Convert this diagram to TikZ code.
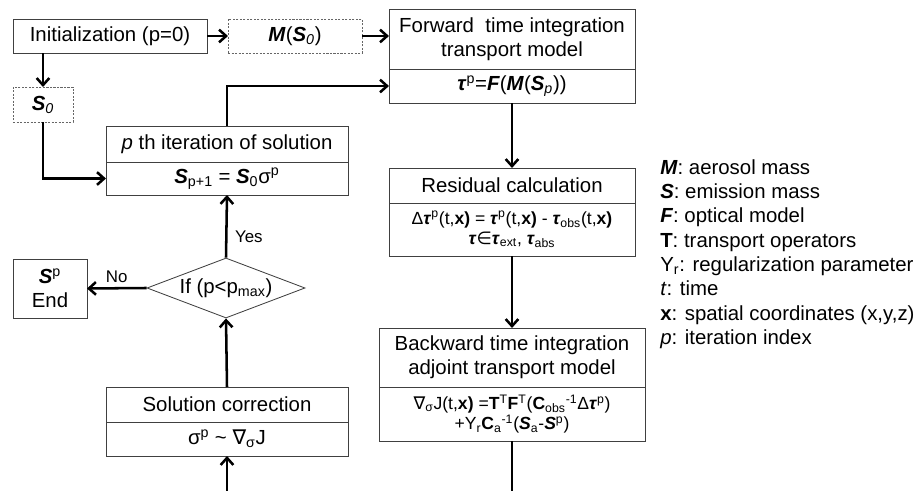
\documentclass[tikz,border=0pt]{standalone}
\usepackage{fontspec}
\setmainfont{Liberation Sans}
\newfontfamily\dvsans{DejaVu Sans}
\usetikzlibrary{positioning,arrows.meta,shapes.geometric}
\newcommand{\bivar}[1]{\textbf{\textit{#1}}}

\begin{document}
\begin{tikzpicture}[x=0.025cm, y=-0.025cm, >={Straight Barb[length=5pt,width=9pt]},
    every node/.style={font=\fontsize{14.5}{17}\selectfont},
    box/.style={draw=black!75, line width=0.6pt, outer sep=0pt, inner sep=2pt, align=center},
    dbox/.style={draw=black!60, dash pattern=on 1.5pt off 1pt, line width=0.5pt, outer sep=0pt, align=center},
    eqfont/.style={font=\fontsize{12.5}{14.5}\selectfont},
    lbl/.style={font=\fontsize{12}{14}\selectfont},
    flow/.style={->, line width=1.8pt}]
      \useasboundingbox (0,0) rectangle (916,491);
      \node[box, minimum width=4.85cm, minimum height=0.85cm] (init) at (110,36) {Initialization (p=0)};
      \node[dbox, minimum width=3.35cm, minimum height=0.85cm] (mso) at (295,36) {\bivar{M}(\bivar{S}\textsubscript{\textit{0}})};
      \node[box, minimum width=6.15cm, minimum height=1.5cm, anchor=north] (fwd) at (512,9) {Forward\ \ time integration\\transport model};
      \node[box, minimum width=6.15cm, minimum height=0.85cm, below=0pt of fwd] (fwdeq) {\bivar{τ}\textsuperscript{p}=\bivar{F}(\bivar{M}(\bivar{S}\textsubscript{\textit{p}}))};
      \node[dbox, minimum width=1.5cm, minimum height=0.875cm] (szero) at (43,104.5) {\bivar{S}\textsubscript{\textit{0}}};
      \node[box, minimum width=6.05cm, minimum height=0.9cm, anchor=north] (iter) at (227,126) {\textit{p} th iteration of solution};
      \node[box, minimum width=6.05cm, minimum height=0.825cm, below=0pt of iter] (itereq) {\bivar{S}\textsubscript{p+1} = \bivar{S}\textsubscript{0}σ\textsuperscript{p}};
      \node[box, minimum width=6.15cm, minimum height=0.875cm, anchor=north] (res) at (512,168) {Residual calculation};
      \node[box, eqfont, minimum width=6.15cm, minimum height=1.325cm, below=0pt of res] (reseq) {Δ\bivar{τ}\textsuperscript{p}(t,\textbf{x)} = \bivar{τ}\textsuperscript{p}(t,\textbf{x)} - \bivar{τ}\textsubscript{obs}(t,\textbf{x)}\\\bivar{τ}{\dvsans∈}\bivar{τ}\textsubscript{ext}, \bivar{τ}\textsubscript{abs}};
      \node[box, minimum width=6.65cm, minimum height=1.475cm, anchor=north] (bwd) at (512,328) {Backward time integration\\adjoint transport model};
      \node[box, eqfont, minimum width=6.65cm, minimum height=1.35cm, below=0pt of bwd] (bwdeq) {{\dvsans∇}\textsubscript{σ}J(t,\textbf{x)} =\textbf{T}\textsuperscript{T}\textbf{F}\textsuperscript{T}(\textbf{C}\textsubscript{obs}\textsuperscript{-1}Δ\bivar{τ}\textsuperscript{p})\\+Y\textsubscript{r}\textbf{C}\textsubscript{a}\textsuperscript{-1}(\bivar{S}\textsubscript{a}-\bivar{S}\textsuperscript{p})};
      \node[diamond, draw=black!75, line width=0.6pt, aspect=2.63, inner sep=0pt, minimum width=3.95cm, minimum height=1.5cm] (cond) at (226,288) {If (p<p\textsubscript{max})};
      \node[box, minimum width=1.85cm, minimum height=1.475cm] (send) at (50,288.5) {\bivar{S}\textsuperscript{p}\\End};
      \node[box, minimum width=6.05cm, minimum height=0.875cm, anchor=north] (corr) at (227,387) {Solution correction};
      \node[box, minimum width=6.05cm, minimum height=0.85cm, below=0pt of corr] (correq) {σ\textsuperscript{p} \textasciitilde\ {\dvsans∇}\textsubscript{σ}J};
      \node[anchor=north west, inner sep=0pt, align=left, font=\fontsize{14.5}{17.3}\selectfont] (legend) at (660,159) {\bivar{M}: aerosol mass\\\bivar{S}: emission mass\\\bivar{F}: optical model\\\textbf{T}: transport operators\\Y\textsubscript{r}: regularization parameter\\\textit{t}: time\\\textbf{x}: spatial coordinates (x,y,z)\\\textit{p}: iteration index};
      \coordinate (cbot) at (227,491);
      \coordinate (bbot) at (512,491);
      \draw[flow] (init) -- (mso);
      \draw[flow] (mso.east) -- (mso.east -| fwd.west);
      \draw[flow] (szero.north |- init.south) -- (szero.north);
      \draw[flow] (szero.south) |- (itereq.west);
      \draw[flow] (iter.north) |- (fwdeq.west);
      \draw[flow] (fwdeq) -- (res);
      \draw[flow] (reseq) -- (bwd);
      \draw[flow] (cond.north) -- node[lbl, pos=0.33, right=2pt] {Yes} (itereq.south);
      \draw[flow] (cond.west) -- node[lbl, above] {No} (send.east);
      \draw[flow] (corr.north) -- (cond.south);
      \draw[flow] (cbot) -- (correq.south);
      \draw[line width=1.8pt] (bwdeq.south) -- (bbot);
    \end{tikzpicture}
\end{document}
